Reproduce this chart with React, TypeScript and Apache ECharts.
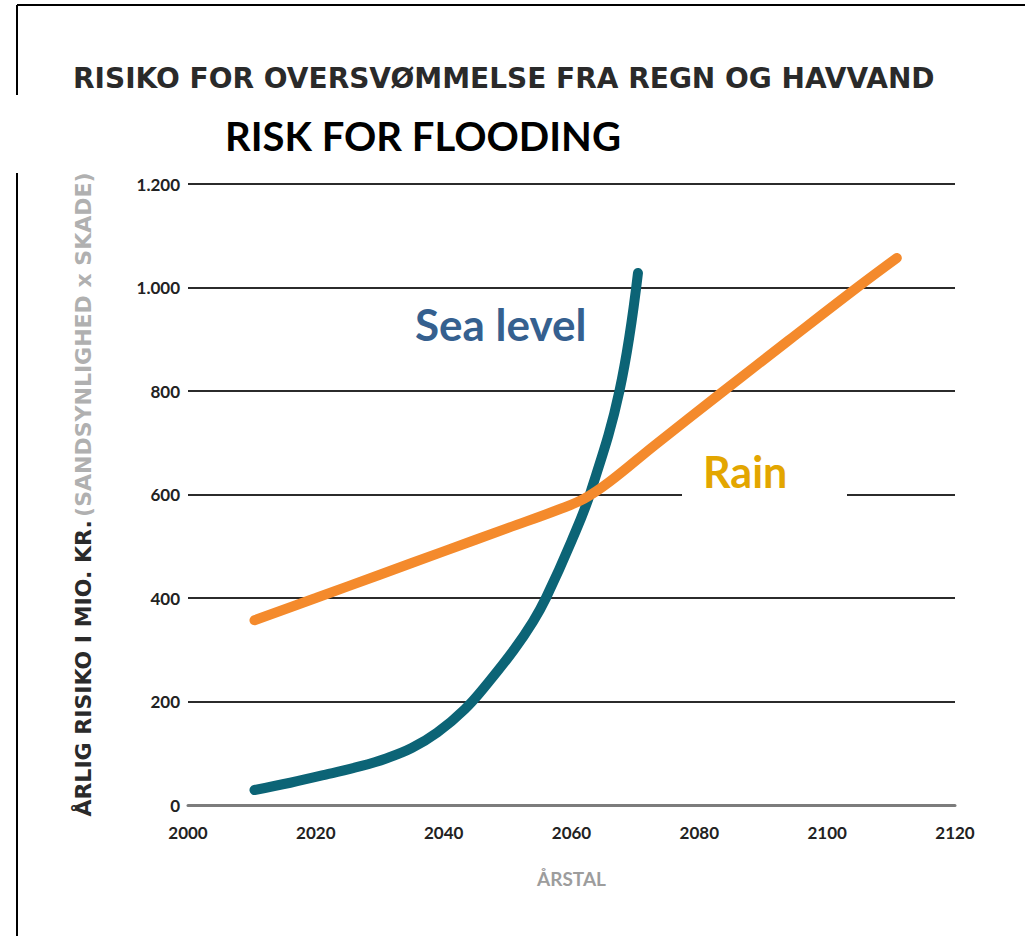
import React, { useEffect, useRef } from "react";
import * as echarts from "echarts";

const xTicks = [2000, 2020, 2040, 2060, 2080, 2100, 2120];
const yTicks = [0, 200, 400, 600, 800, 1000, 1200];

const seaYears = [2010.4, 2016, 2022, 2027, 2031, 2035, 2039, 2043.3, 2047, 2051, 2054, 2056, 2060, 2063, 2067.5, 2070.4];
const seaValues = [29, 43, 60, 75, 90, 110, 140, 185, 237, 300, 355, 400, 510, 605, 800, 1028];

const rainYears = [2010.4, 2020, 2030, 2040, 2050, 2058, 2062, 2066, 2073, 2083.8, 2094, 2104.7, 2110.9];
const rainValues = [357, 400, 445, 490, 535, 571, 592, 625, 695, 800, 898, 1000, 1057];

const fmt = (v: number) => String(v).replace(/\B(?=(\d{3})+(?!\d))/g, ".");

export default function App() {
  const ref = useRef<HTMLDivElement>(null);
  useEffect(() => {
    document.body.style.margin = "0";
    const chart = echarts.init(ref.current!, undefined, { renderer: "svg" });
    const font = "Lato";
    const wide = "DejaVu Sans";
    chart.setOption({
      animation: false,
      backgroundColor: "#ffffff",
      grid: { left: 188, right: 70, top: 184, bottom: 131 },
      xAxis: {
        type: "value",
        min: xTicks[0],
        max: xTicks[xTicks.length - 1],
        interval: 20,
        name: "ÅRSTAL",
        nameLocation: "middle",
        nameGap: 64,
        nameTextStyle: { color: "#9d9d9d", fontSize: 19, fontWeight: "bold", fontFamily: font },
        axisLine: { show: true, lineStyle: { color: "#7c7c7c", width: 3 } },
        axisTick: { show: false },
        splitLine: { show: false },
        axisLabel: {
          color: "#222",
          fontSize: 17,
          fontWeight: "bold",
          fontFamily: font,
          margin: 19,
          formatter: (v: number) => String(v),
        },
      },
      yAxis: {
        type: "value",
        min: yTicks[0],
        max: yTicks[yTicks.length - 1],
        interval: 200,
        name: "{a|ÅRLIG RISIKO I MIO. KR.} {b|(SANDSYNLIGHED x SKADE)}",
        nameLocation: "middle",
        nameRotate: 90,
        nameGap: 94,
        nameTextStyle: {
          rich: {
            a: { color: "#2a2a2a", fontSize: 22, fontWeight: "bold", fontFamily: wide },
            b: { color: "#b0b0b0", fontSize: 22, fontWeight: "bold", fontFamily: wide },
          },
        },
        axisLine: { show: false },
        axisTick: { show: false },
        splitLine: { show: true, lineStyle: { color: "#2b2b2b", width: 2 } },
        axisLabel: {
          color: "#222",
          fontSize: 17,
          fontWeight: "bold",
          fontFamily: font,
          margin: 8,
          formatter: (v: number) => fmt(v),
        },
      },
      series: [
        {
          name: "Sea level",
          type: "line",
          smooth: 0.4,
          symbol: "none",
          lineStyle: { color: "#0c6476", width: 10, cap: "round" },
          data: seaYears.map((y, i) => [y, seaValues[i]]),
        },
        {
          name: "Rain",
          type: "line",
          smooth: 0.4,
          symbol: "none",
          lineStyle: { color: "#f48a2c", width: 10, cap: "round" },
          data: rainYears.map((y, i) => [y, rainValues[i]]),
        },
      ],
      graphic: [
        { type: "line", shape: { x1: 17, y1: 5, x2: 1025, y2: 5 }, style: { stroke: "#000", lineWidth: 2 } },
        { type: "line", shape: { x1: 17, y1: 5, x2: 17, y2: 95 }, style: { stroke: "#000", lineWidth: 2 } },
        { type: "line", shape: { x1: 17, y1: 173, x2: 17, y2: 936 }, style: { stroke: "#000", lineWidth: 2 } },
        {
          type: "text",
          left: 73,
          top: 64,
          style: {
            text: "RISIKO FOR OVERSVØMMELSE FRA REGN OG HAVVAND",
            fill: "#2a2a2a",
            font: `bold 28px '${wide}'`,
          },
        },
        {
          type: "text",
          left: 225,
          top: 116,
          style: { text: "RISK FOR FLOODING", fill: "#000", font: `bold 40px ${font}` },
        },
        {
          type: "rect",
          shape: { x: 682, y: 435, width: 165, height: 66 },
          style: { fill: "#ffffff" },
          z: 5,
        },
        {
          type: "text",
          left: 415,
          top: 302,
          z: 6,
          style: { text: "Sea level", fill: "#35608f", font: `bold 44px ${font}` },
        },
        {
          type: "text",
          left: 703,
          top: 450,
          z: 6,
          style: { text: "Rain", fill: "#e3a600", font: `bold 43px ${font}` },
        },
      ],
    });
    return () => chart.dispose();
  }, []);
  return <div ref={ref} style={{ width: 1025, height: 936 }} />;
}
